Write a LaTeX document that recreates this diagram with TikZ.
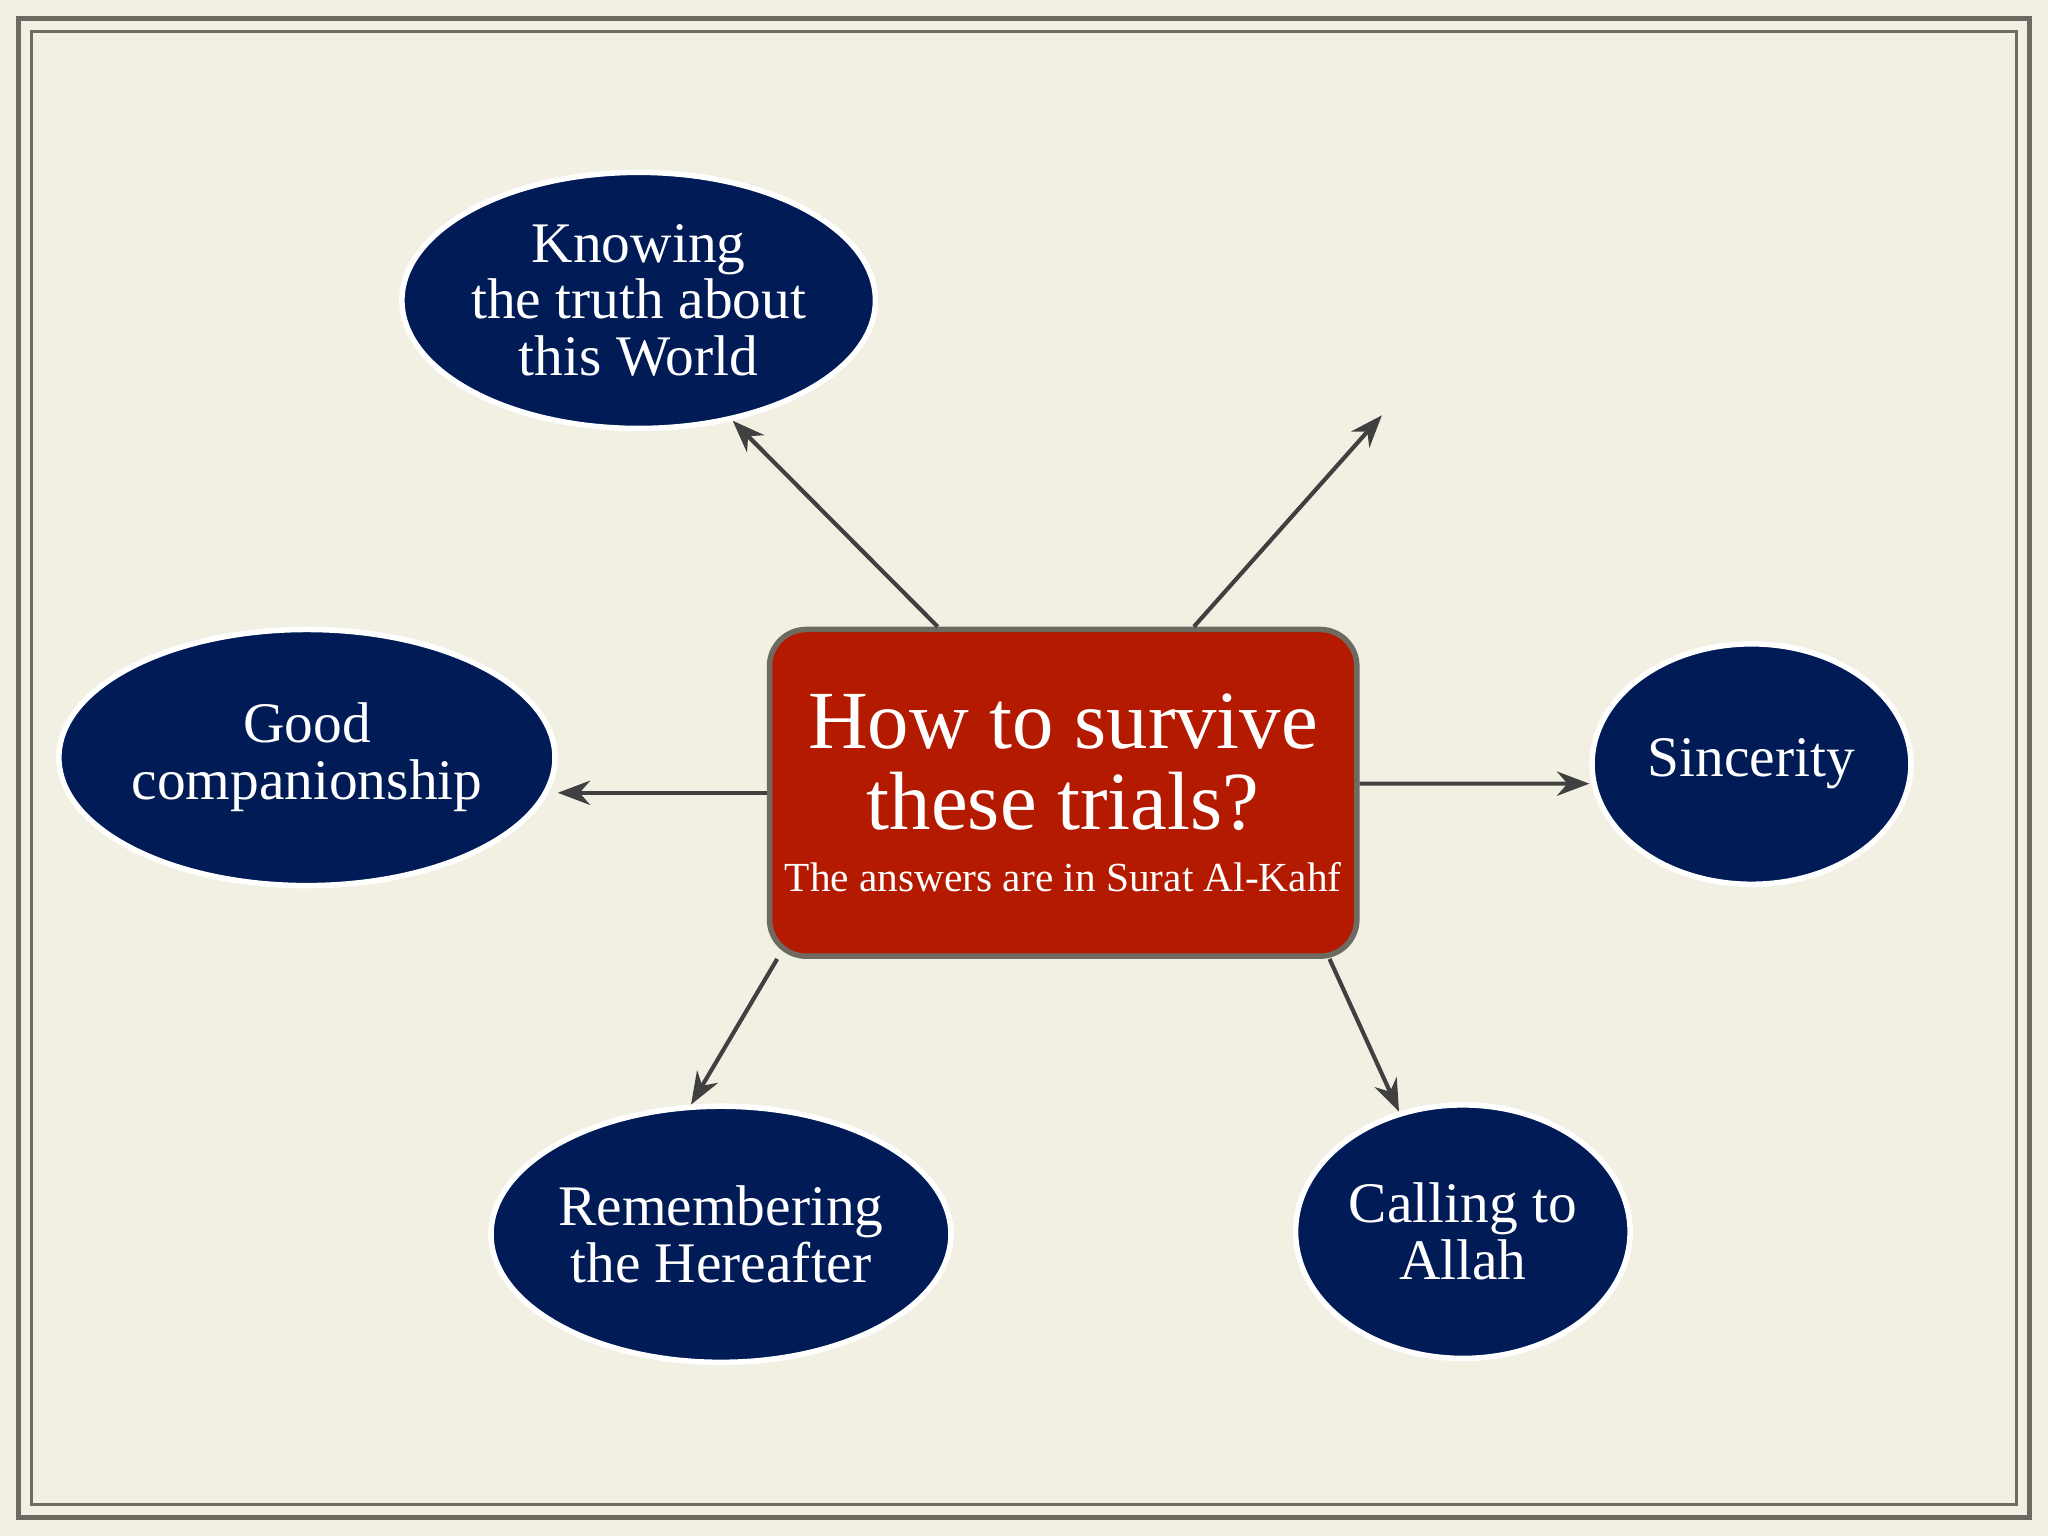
\documentclass[tikz,border=0pt]{standalone}
\usepackage{fontspec}
\setmainfont{Liberation Serif}
\usetikzlibrary{arrows.meta, positioning, shapes, calc}
\definecolor{paper}{HTML}{F2EFE3}
\definecolor{navy}{HTML}{011B57}
\definecolor{brick}{HTML}{B31A00}
\definecolor{frame}{HTML}{6E6A62}
\begin{document}
\begin{tikzpicture}[>=Stealth, x=0.01cm, y=-0.01cm]
            % styles: navy ovals and the red hub
            \tikzset{
                topic/.style={ellipse, draw=white, line width=1.2pt, fill=navy, text=white,
                    inner sep=0pt, align=center, font=\fontsize{12.5}{12.4}\selectfont},
                hubbox/.style={rectangle, rounded corners=8pt, draw=frame, line width=1.2pt,
                    fill=brick, text=white, align=center, minimum width=3.99cm, minimum height=2.5cm,
                    font=\fontsize{18}{17.5}\selectfont}
            }
            \tikzset{link/.style={->, draw=black!75, line width=0.9pt}}
            % paper and frame
            \fill[paper] (0,0) rectangle (1568,1176);
            \draw[frame, line width=1pt] (14,14) rectangle (1554,1162);
            \draw[frame, line width=0.8pt] (24,24) rectangle (1544,1152);
            % hub
            \node[hubbox] (hub) at (814,607) {How to survive\\ these trials?\\[-4pt]
                \fontsize{9}{11}\selectfont The answers are in Surat Al-Kahf};
            % topics
            \node[topic, minimum width=2.6cm, minimum height=1.96cm] (know) at (489,230) {Knowing\\ the truth about\\ this World};
            \node[topic, minimum width=2.6cm, minimum height=1.96cm] (good) at (235,580) {Good\\ companionship};
            \node[topic, minimum width=2.44cm, minimum height=1.84cm] (sinc) at (1341,585) {Sincerity};
            \node[topic, minimum width=2.6cm, minimum height=1.96cm] (remb) at (552,945) {Remembering\\ the Hereafter};
            \node[topic, minimum width=2.56cm, minimum height=1.94cm] (call) at (1120,943) {Calling to\\ Allah};
            \coordinate (open) at (1058,318);
            % links
            \draw[link] ([xshift=-0.96cm]hub.north) -- (know.-52);
            \draw[link] ([xshift=1.0cm]hub.north) -- (open);
            \draw[link] (hub.west) -- (good.east |- hub.west);
            \draw[link] ([yshift=0.07cm]hub.east) -- ([yshift=-0.15cm]sinc.west);
            \draw[link] ([xshift=0.08cm]hub.south west) -- (remb.103);
            \draw[link] ([xshift=-0.23cm]hub.south east) -- (call.118);
        \end{tikzpicture}
\end{document}
